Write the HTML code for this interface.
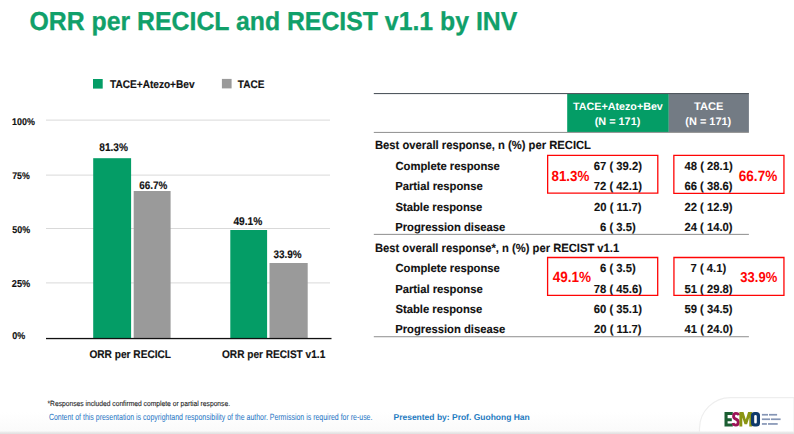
<!DOCTYPE html>
<html><head><meta charset="utf-8"><style>
html,body{margin:0;padding:0;background:#fff;overflow:hidden;width:794px;height:434px;}
svg{display:block;font-family:"Liberation Sans",sans-serif;text-rendering:geometricPrecision;}
</style></head><body>
<svg width="794" height="434" viewBox="0 0 794 434">
<rect x="0" y="0" width="794" height="434" fill="#fff"/>
<defs><linearGradient id="bg" x1="0" y1="0" x2="0" y2="1"><stop offset="0" stop-color="#f0f0f0"/><stop offset="1" stop-color="#e0e0e0"/></linearGradient></defs>
<defs><linearGradient id="bf" x1="0" y1="0" x2="0" y2="1"><stop offset="0" stop-color="#ffffff"/><stop offset="1" stop-color="#fafafa"/></linearGradient></defs>
<rect x="0" y="412" width="794" height="20" fill="url(#bf)"/>
<path d="M699.5 434 V428.6 A31 31 0 0 1 730.5 397.6 H794 V434 Z" fill="#fff" stroke="#eeeeee" stroke-width="1.2"/>
<rect x="0" y="431.4" width="794" height="2.6" fill="url(#bg)"/>
<text x="29.51" y="30.35" font-size="26.06" font-weight="700" fill="#10a06a" textLength="487.80" lengthAdjust="spacingAndGlyphs" stroke="#10a06a" stroke-width="0.3">ORR per RECICL and RECIST v1.1 by INV</text>
<rect x="93" y="79" width="9.7" height="9.6" fill="#049d66"/>
<text x="110.00" y="87.80" font-size="11.11" font-weight="700" fill="#121212" textLength="84.53" lengthAdjust="spacingAndGlyphs" stroke="#121212" stroke-width="0.15">TACE+Atezo+Bev</text>
<rect x="221.9" y="78.9" width="9.7" height="9.5" fill="#9a9a9a"/>
<text x="237.80" y="87.80" font-size="11.04" font-weight="700" fill="#121212" textLength="26.58" lengthAdjust="spacingAndGlyphs" stroke="#121212" stroke-width="0.15">TACE</text>
<rect x="46" y="119.60" width="284" height="1" fill="#d9d9d9"/>
<rect x="46" y="174.60" width="284" height="1" fill="#d9d9d9"/>
<rect x="46" y="228.00" width="284" height="1" fill="#d9d9d9"/>
<rect x="46" y="282.40" width="284" height="1" fill="#d9d9d9"/>
<rect x="93.2" y="158.2" width="37.90" height="180.30" fill="#049d66"/>
<rect x="133.7" y="191" width="36.90" height="147.50" fill="#9a9a9a"/>
<rect x="230.3" y="230" width="36.80" height="108.50" fill="#049d66"/>
<rect x="269.5" y="263" width="38.20" height="75.50" fill="#9a9a9a"/>
<rect x="46" y="337.9" width="285.5" height="1.3" fill="#111"/>
<text x="12.07" y="124.50" font-size="9.80" font-weight="700" fill="#121212" textLength="22.79" lengthAdjust="spacingAndGlyphs" stroke="#121212" stroke-width="0.15">100%</text>
<text x="12.15" y="178.80" font-size="9.64" font-weight="700" fill="#121212" textLength="17.54" lengthAdjust="spacingAndGlyphs" stroke="#121212" stroke-width="0.15">75%</text>
<text x="12.24" y="233.10" font-size="9.81" font-weight="700" fill="#121212" textLength="17.85" lengthAdjust="spacingAndGlyphs" stroke="#121212" stroke-width="0.15">50%</text>
<text x="11.83" y="287.00" font-size="10.09" font-weight="700" fill="#121212" textLength="18.36" lengthAdjust="spacingAndGlyphs" stroke="#121212" stroke-width="0.15">25%</text>
<text x="12.24" y="338.70" font-size="9.88" font-weight="700" fill="#121212" textLength="12.99" lengthAdjust="spacingAndGlyphs" stroke="#121212" stroke-width="0.15">0%</text>
<text x="99.30" y="151.30" font-size="11.12" font-weight="700" fill="#121212" textLength="28.66" lengthAdjust="spacingAndGlyphs" stroke="#121212" stroke-width="0.15">81.3%</text>
<text x="139.30" y="189.40" font-size="10.92" font-weight="700" fill="#121212" textLength="28.15" lengthAdjust="spacingAndGlyphs" stroke="#121212" stroke-width="0.15">66.7%</text>
<text x="233.40" y="224.90" font-size="11.24" font-weight="700" fill="#121212" textLength="28.97" lengthAdjust="spacingAndGlyphs" stroke="#121212" stroke-width="0.15">49.1%</text>
<text x="273.40" y="257.70" font-size="10.92" font-weight="700" fill="#121212" textLength="28.15" lengthAdjust="spacingAndGlyphs" stroke="#121212" stroke-width="0.15">33.9%</text>
<text x="89.39" y="357.60" font-size="11.15" font-weight="700" fill="#121212" textLength="81.67" lengthAdjust="spacingAndGlyphs" stroke="#121212" stroke-width="0.15">ORR per RECICL</text>
<text x="222.00" y="357.60" font-size="11.11" font-weight="700" fill="#121212" textLength="103.26" lengthAdjust="spacingAndGlyphs" stroke="#121212" stroke-width="0.15">ORR per RECIST v1.1</text>
<rect x="567.2" y="93.6" width="101.6" height="38.5" fill="#049d66"/>
<rect x="668.8" y="93.6" width="80.1" height="38.5" fill="#737b84"/>
<rect x="373.8" y="93.0" width="375.1" height="1.1" fill="#51585f"/>
<rect x="373.8" y="131.90" width="375.1" height="1.1" fill="#989898"/>
<rect x="373.8" y="233.85" width="375.1" height="1.1" fill="#989898"/>
<rect x="373.8" y="336.15" width="375.1" height="1.1" fill="#989898"/>
<text x="572.99" y="109.90" font-size="10.73" font-weight="700" fill="#fff" textLength="89.85" lengthAdjust="spacingAndGlyphs">TACE+Atezo+Bev</text>
<text x="594.75" y="124.60" font-size="10.86" font-weight="700" fill="#fff" textLength="45.57" lengthAdjust="spacingAndGlyphs">(N = 171)</text>
<text x="694.08" y="109.90" font-size="11.09" font-weight="700" fill="#fff" textLength="29.36" lengthAdjust="spacingAndGlyphs">TACE</text>
<text x="685.34" y="124.60" font-size="10.93" font-weight="700" fill="#fff" textLength="45.87" lengthAdjust="spacingAndGlyphs">(N = 171)</text>
<text x="374.93" y="148.80" font-size="11.91" font-weight="700" fill="#121212" textLength="216.08" lengthAdjust="spacingAndGlyphs" stroke="#121212" stroke-width="0.12">Best overall response, n (%) per RECICL</text>
<text x="374.93" y="251.80" font-size="11.88" font-weight="700" fill="#121212" textLength="244.26" lengthAdjust="spacingAndGlyphs" stroke="#121212" stroke-width="0.12">Best overall response*, n (%) per RECIST v1.1</text>
<text x="395.45" y="170.00" font-size="11.70" font-weight="700" fill="#121212" textLength="104.40" lengthAdjust="spacingAndGlyphs" stroke="#121212" stroke-width="0.12">Complete response</text>
<text x="593.84" y="170.00" font-size="11.70" font-weight="700" fill="#121212" textLength="48.15" lengthAdjust="spacingAndGlyphs" stroke="#121212" stroke-width="0.12">67 ( 39.2)</text>
<text x="684.55" y="170.00" font-size="11.70" font-weight="700" fill="#121212" textLength="48.15" lengthAdjust="spacingAndGlyphs" stroke="#121212" stroke-width="0.12">48 ( 28.1)</text>
<text x="395.22" y="190.30" font-size="11.70" font-weight="700" fill="#121212" textLength="87.54" lengthAdjust="spacingAndGlyphs" stroke="#121212" stroke-width="0.12">Partial response</text>
<text x="593.84" y="190.30" font-size="11.70" font-weight="700" fill="#121212" textLength="48.15" lengthAdjust="spacingAndGlyphs" stroke="#121212" stroke-width="0.12">72 ( 42.1)</text>
<text x="684.44" y="190.30" font-size="11.70" font-weight="700" fill="#121212" textLength="48.15" lengthAdjust="spacingAndGlyphs" stroke="#121212" stroke-width="0.12">66 ( 38.6)</text>
<text x="395.45" y="210.60" font-size="11.70" font-weight="700" fill="#121212" textLength="86.91" lengthAdjust="spacingAndGlyphs" stroke="#121212" stroke-width="0.12">Stable response</text>
<text x="594.06" y="210.60" font-size="11.70" font-weight="700" fill="#121212" textLength="47.53" lengthAdjust="spacingAndGlyphs" stroke="#121212" stroke-width="0.12">20 ( 11.7)</text>
<text x="684.44" y="210.60" font-size="11.70" font-weight="700" fill="#121212" textLength="48.15" lengthAdjust="spacingAndGlyphs" stroke="#121212" stroke-width="0.12">22 ( 12.9)</text>
<text x="395.22" y="230.90" font-size="11.70" font-weight="700" fill="#121212" textLength="110.05" lengthAdjust="spacingAndGlyphs" stroke="#121212" stroke-width="0.12">Progression disease</text>
<text x="600.02" y="230.90" font-size="11.70" font-weight="700" fill="#121212" textLength="35.64" lengthAdjust="spacingAndGlyphs" stroke="#121212" stroke-width="0.12">6 ( 3.5)</text>
<text x="684.44" y="230.90" font-size="11.70" font-weight="700" fill="#121212" textLength="48.15" lengthAdjust="spacingAndGlyphs" stroke="#121212" stroke-width="0.12">24 ( 14.0)</text>
<text x="395.45" y="272.40" font-size="11.70" font-weight="700" fill="#121212" textLength="104.40" lengthAdjust="spacingAndGlyphs" stroke="#121212" stroke-width="0.12">Complete response</text>
<text x="600.02" y="272.40" font-size="11.70" font-weight="700" fill="#121212" textLength="35.64" lengthAdjust="spacingAndGlyphs" stroke="#121212" stroke-width="0.12">6 ( 3.5)</text>
<text x="690.62" y="272.40" font-size="11.70" font-weight="700" fill="#121212" textLength="35.64" lengthAdjust="spacingAndGlyphs" stroke="#121212" stroke-width="0.12">7 ( 4.1)</text>
<text x="395.22" y="292.80" font-size="11.70" font-weight="700" fill="#121212" textLength="87.54" lengthAdjust="spacingAndGlyphs" stroke="#121212" stroke-width="0.12">Partial response</text>
<text x="593.84" y="292.80" font-size="11.70" font-weight="700" fill="#121212" textLength="48.15" lengthAdjust="spacingAndGlyphs" stroke="#121212" stroke-width="0.12">78 ( 45.6)</text>
<text x="684.44" y="292.80" font-size="11.70" font-weight="700" fill="#121212" textLength="48.15" lengthAdjust="spacingAndGlyphs" stroke="#121212" stroke-width="0.12">51 ( 29.8)</text>
<text x="395.45" y="313.20" font-size="11.70" font-weight="700" fill="#121212" textLength="86.91" lengthAdjust="spacingAndGlyphs" stroke="#121212" stroke-width="0.12">Stable response</text>
<text x="593.84" y="313.20" font-size="11.70" font-weight="700" fill="#121212" textLength="48.15" lengthAdjust="spacingAndGlyphs" stroke="#121212" stroke-width="0.12">60 ( 35.1)</text>
<text x="684.44" y="313.20" font-size="11.70" font-weight="700" fill="#121212" textLength="48.15" lengthAdjust="spacingAndGlyphs" stroke="#121212" stroke-width="0.12">59 ( 34.5)</text>
<text x="395.22" y="333.30" font-size="11.70" font-weight="700" fill="#121212" textLength="110.05" lengthAdjust="spacingAndGlyphs" stroke="#121212" stroke-width="0.12">Progression disease</text>
<text x="594.06" y="333.30" font-size="11.70" font-weight="700" fill="#121212" textLength="47.53" lengthAdjust="spacingAndGlyphs" stroke="#121212" stroke-width="0.12">20 ( 11.7)</text>
<text x="684.55" y="333.30" font-size="11.70" font-weight="700" fill="#121212" textLength="48.15" lengthAdjust="spacingAndGlyphs" stroke="#121212" stroke-width="0.12">41 ( 24.0)</text>
<path d="M547.00 154.65 H658.45 V193.75 H547.00 Z M548.30 155.95 V192.45 H657.15 V155.95 Z" fill="#ff0505" fill-rule="evenodd"/>
<path d="M673.20 154.65 H784.60 V193.95 H673.20 Z M674.50 155.95 V192.65 H783.30 V155.95 Z" fill="#ff0505" fill-rule="evenodd"/>
<path d="M546.95 256.85 H658.35 V296.10 H546.95 Z M548.25 258.15 V294.80 H657.05 V258.15 Z" fill="#ff0505" fill-rule="evenodd"/>
<path d="M673.30 256.85 H784.60 V296.10 H673.30 Z M674.60 258.15 V294.80 H783.30 V258.15 Z" fill="#ff0505" fill-rule="evenodd"/>
<text x="551.47" y="180.60" font-size="14.67" font-weight="700" fill="#ff0505" textLength="37.81" lengthAdjust="spacingAndGlyphs">81.3%</text>
<text x="738.76" y="180.60" font-size="14.95" font-weight="700" fill="#ff0505" textLength="38.53" lengthAdjust="spacingAndGlyphs">66.7%</text>
<text x="552.73" y="282.40" font-size="14.88" font-weight="700" fill="#ff0505" textLength="38.35" lengthAdjust="spacingAndGlyphs">49.1%</text>
<text x="740.34" y="282.40" font-size="14.32" font-weight="700" fill="#ff0505" textLength="36.92" lengthAdjust="spacingAndGlyphs">33.9%</text>
<text x="47.47" y="405.80" font-size="7.51" font-weight="400" fill="#1a1a1a" textLength="182.58" lengthAdjust="spacingAndGlyphs" stroke="#1a1a1a" stroke-width="0.1">*Responses included confirmed complete or partial response.</text>
<text x="48.88" y="420.20" font-size="9.03" font-weight="400" fill="#1c74c4" textLength="323.57" lengthAdjust="spacingAndGlyphs">Content of this presentation is copyrightand responsibility of the author. Permission is required for re-use.</text>
<text x="393.49" y="420.20" font-size="8.49" font-weight="700" fill="#1f7bc1" textLength="136.29" lengthAdjust="spacingAndGlyphs">Presented by: Prof. Guohong Han</text>
<path d="M724.5 412 H732.8 V415 H727.6 V418.2 H731.8 V421.3 H727.6 V423.6 H732.8 V426.6 H724.5 Z" fill="#1b5e32"/>
<path d="M738.7 415.2 Q738.3 413.4 735.9 413.4 Q733.6 413.4 733.6 416.2 Q733.6 418.2 735.9 419.2 Q738.3 420.2 738.3 422.6 Q738.3 425.1 735.9 425.1 Q733.5 425.1 733.1 423" fill="none" stroke="#9c1558" stroke-width="2.9"/>
<path d="M739.4 426.6 V412 H743.5 L745.8 419.5 L748.1 412 H752.2 V426.6 H749.3 V417.5 L747.1 424.3 H744.5 L742.3 417.5 V426.6 Z" fill="#8a9412"/>
<path fill-rule="evenodd" d="M754.6 412 H756.4 Q760 412 760 415.6 V423 Q760 426.6 756.4 426.6 H754.6 Q751 426.6 751 423 V415.6 Q751 412 754.6 412 Z M755.5 415 Q754.2 415 754.2 416.3 V422.3 Q754.2 423.6 755.5 423.6 Q756.8 423.6 756.8 422.3 V416.3 Q756.8 415 755.5 415 Z" fill="#0f3a6b"/>
<rect x="761.9" y="413.9" width="6.10" height="1.7" fill="#8595b5"/>
<rect x="769" y="413.9" width="8.10" height="1.7" fill="#8595b5"/>
<rect x="761.9" y="418.4" width="8.10" height="1.7" fill="#8595b5"/>
<rect x="770.9" y="418.4" width="9.70" height="1.7" fill="#8595b5"/>
<rect x="761.9" y="423.1" width="5.00" height="1.7" fill="#8595b5"/>
<rect x="768" y="423.1" width="9.70" height="1.7" fill="#8595b5"/>
</svg>
</body></html>
